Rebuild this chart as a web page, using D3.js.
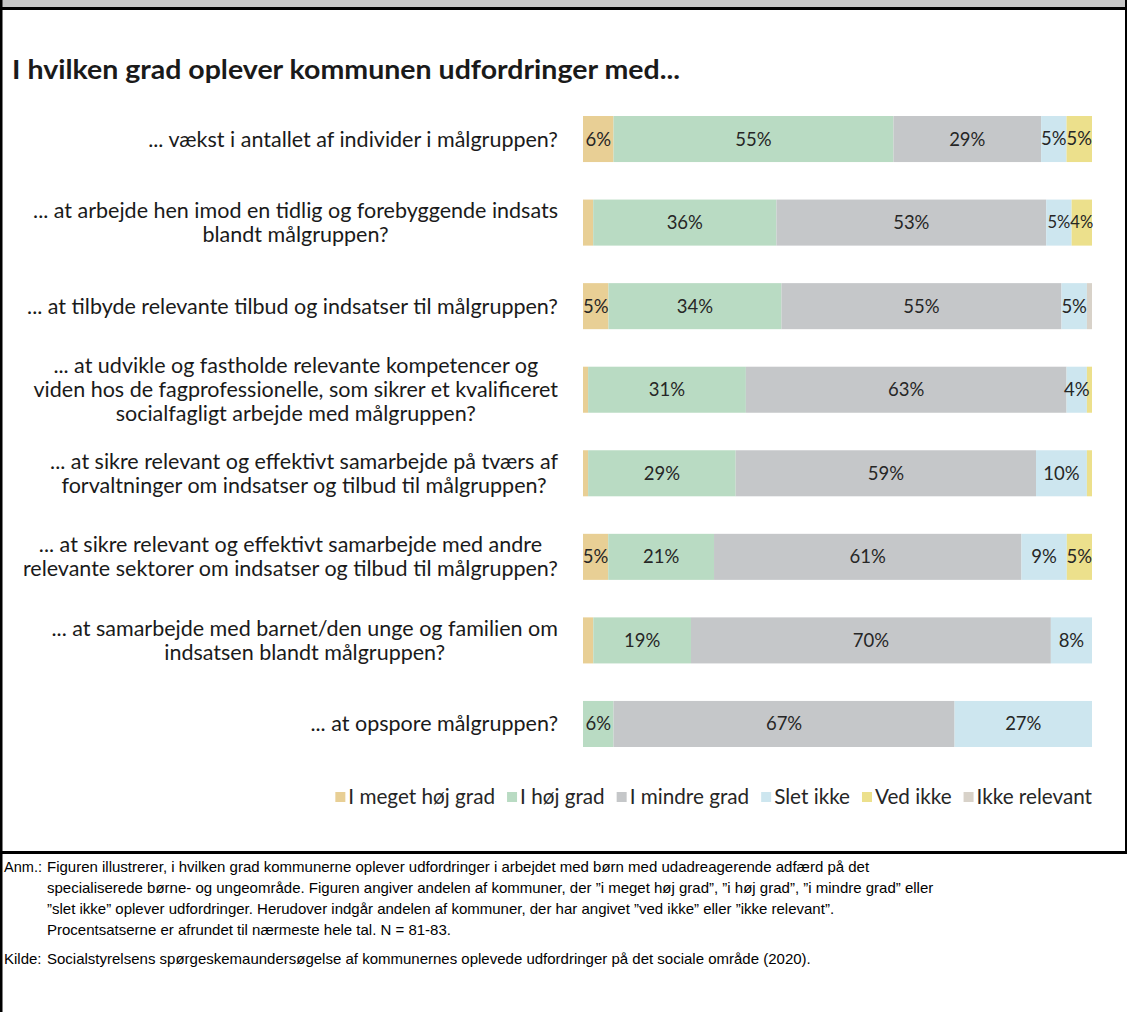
<!DOCTYPE html>
<html>
<head>
<meta charset="utf-8">
<script src="https://cdn.jsdelivr.net/npm/d3@7"></script>
<style>
  html, body { margin: 0; padding: 0; background: #fff; }
  svg { display: block; }
</style>
</head>
<body>
<svg id="chart" width="1127" height="1012"></svg>
<script>
// ---------- DATA ----------
const title = "I hvilken grad oplever kommunen udfordringer med...";
const categories = [
  ["... vækst i antallet af individer i målgruppen?"],
  ["... at arbejde hen imod en tidlig og forebyggende indsats", "blandt målgruppen?"],
  ["... at tilbyde relevante tilbud og indsatser til målgruppen?"],
  ["... at udvikle og fastholde relevante kompetencer og", "viden hos de fagprofessionelle, som sikrer et kvalificeret", "socialfagligt arbejde med målgruppen?"],
  ["... at sikre relevant og effektivt samarbejde på tværs af", "forvaltninger om indsatser og tilbud til målgruppen?"],
  ["... at sikre relevant og effektivt samarbejde med andre", "relevante sektorer om indsatser og tilbud til målgruppen?"],
  ["... at samarbejde med barnet/den unge og familien om", "indsatsen blandt målgruppen?"],
  ["... at opspore målgruppen?"]
];
const seriesNames = ["I meget høj grad", "I høj grad", "I mindre grad", "Slet ikke", "Ved ikke", "Ikke relevant"];
const iMegetHoejGrad = [6, 2, 5, 1, 1, 5, 2, 0];
const iHoejGrad      = [55, 36, 34, 31, 29, 21, 19, 6];
const iMindreGrad    = [29, 53, 55, 63, 59, 61, 70, 67];
const sletIkke       = [5, 5, 5, 4, 10, 9, 8, 27];
const vedIkke        = [5, 4, 0, 1, 1, 5, 0, 0];
const ikkeRelevant   = [0, 0, 1, 0, 0, 0, 0, 0];
const seriesColors = ["#e8cf95", "#b9dbc3", "#c5c7c9", "#cde6ef", "#ece08c", "#d8d2c9"];
const noteLabel = "Anm.:";
const noteLines = [
  "Figuren illustrerer, i hvilken grad kommunerne oplever udfordringer i arbejdet med børn med udadreagerende adfærd på det",
  "specialiserede børne- og ungeområde. Figuren angiver andelen af kommuner, der ”i meget høj grad”, ”i høj grad”, ”i mindre grad” eller",
  "”slet ikke” oplever udfordringer. Herudover indgår andelen af kommuner, der har angivet ”ved ikke” eller ”ikke relevant”.",
  "Procentsatserne er afrundet til nærmeste hele tal. N = 81-83."
];
const sourceLabel = "Kilde:";
const sourceText = "Socialstyrelsens spørgeskemaundersøgelse af kommunernes oplevede udfordringer på det sociale område (2020).";

// ---------- BUILD TABLE ----------
const seriesArrays = [iMegetHoejGrad, iHoejGrad, iMindreGrad, sletIkke, vedIkke, ikkeRelevant];
const rows = categories.map((c, i) => {
  const r = { idx: i, label: c };
  seriesNames.forEach((s, j) => r[s] = seriesArrays[j][i]);
  return r;
});

const svg = d3.select("#chart");
const W = 1127, H = 1012;
const chartFont = "Lato, 'Open Sans', sans-serif";
const noteFont = "'Liberation Sans', Arial, sans-serif";

// ---------- FRAME ----------
const sepY = 851;
svg.append("rect").attr("x", 0).attr("y", 0).attr("width", W).attr("height", 8).attr("fill", "#c6c6c6");
svg.append("rect").attr("x", 0).attr("y", 7).attr("width", W).attr("height", 3).attr("fill", "#000");
svg.append("rect").attr("x", 0).attr("y", 0).attr("width", 2.5).attr("height", H).attr("fill", "#000");
svg.append("rect").attr("x", W - 2).attr("y", 0).attr("width", 2).attr("height", sepY + 2).attr("fill", "#000");
svg.append("rect").attr("x", 0).attr("y", sepY).attr("width", W).attr("height", 3).attr("fill", "#000");

// ---------- TITLE ----------
svg.append("text")
  .attr("x", 12).attr("y", 79)
  .attr("font-family", chartFont).attr("font-weight", 700)
  .attr("font-size", 27).attr("fill", "#1a1a1a")
  .attr("textLength", 668).attr("lengthAdjust", "spacingAndGlyphs")
  .text(title);

// ---------- SCALES ----------
const x = d3.scaleLinear().domain([0, 1]).range([583, 1092]);
const y = d3.scaleBand().domain(rows.map(r => r.idx)).range([97.25, 765.75]).paddingInner(0.449).paddingOuter(0.2245);

const stack = d3.stack().keys(seriesNames).offset(d3.stackOffsetExpand);
const stacked = stack(rows);

const gBars = svg.append("g");
const layers = gBars.selectAll("g.layer").data(stacked).join("g")
  .attr("class", "layer").attr("fill", (d, i) => seriesColors[i]);
layers.selectAll("rect").data(d => d.map(v => ({ v, key: d.key }))).join("rect")
  .attr("x", d => x(d.v[0]))
  .attr("y", d => y(d.v.data.idx))
  .attr("width", d => Math.max(0, x(d.v[1]) - x(d.v[0])))
  .attr("height", y.bandwidth());

// value labels: shrink only where a label would run into its labelled neighbour
const labelSize = 18.5;
const gLabels = svg.append("g")
  .attr("font-family", chartFont).attr("fill", "#262626")
  .attr("text-anchor", "middle");
rows.forEach((r, ri) => {
  const items = [];
  stacked.forEach(layer => {
    const v = layer[ri];
    const val = r[layer.key];
    if (val >= 3) items.push({ val, cx: (x(v[0]) + x(v[1])) / 2 });
  });
  items.forEach((it, k) => {
    const t = gLabels.append("text")
      .attr("font-size", labelSize)
      .attr("x", it.cx)
      .attr("y", y(r.idx) + y.bandwidth() / 2)
      .attr("dy", "0.35em")
      .text(it.val + "%");
    const tw = t.node().getComputedTextLength();
    let allowed = Infinity;
    if (k > 0) allowed = Math.min(allowed, it.cx - items[k - 1].cx);
    if (k < items.length - 1) allowed = Math.min(allowed, items[k + 1].cx - it.cx);
    if (tw > allowed) t.attr("font-size", labelSize * allowed / tw);
  });
});

// ---------- CATEGORY LABELS ----------
const gCat = svg.append("g")
  .attr("font-family", chartFont).attr("font-size", 21.5).attr("fill", "#1a1a1a");
const labelRight = 558, lineH = 24;
rows.forEach(r => {
  const cy = y(r.idx) + y.bandwidth() / 2;
  const n = r.label.length;
  const texts = r.label.map((line, k) => gCat.append("text")
    .attr("y", cy + (k - (n - 1) / 2) * lineH)
    .attr("dy", "0.35em")
    .text(line));
  const widths = texts.map(t => t.node().getComputedTextLength());
  const maxW = d3.max(widths);
  const center = labelRight - maxW / 2;
  texts.forEach(t => t.attr("x", center).attr("text-anchor", "middle"));
});

// ---------- LEGEND ----------
const gLeg = svg.append("g").attr("font-family", chartFont).attr("font-size", 20.7).attr("fill", "#262626");
const legY = 797, sq = 10, gapT = 3, gapItem = 12;
const legItems = seriesNames.map((s, i) => {
  const g = gLeg.append("g");
  g.append("rect").attr("width", sq).attr("height", sq).attr("y", legY - sq / 2).attr("fill", seriesColors[i]);
  const t = g.append("text").attr("x", sq + gapT).attr("y", legY).attr("dy", "0.35em").text(s);
  return { g, w: sq + gapT + t.node().getComputedTextLength() };
});
const totalW = d3.sum(legItems, d => d.w) + gapItem * (legItems.length - 1);
let lx = 1092 - totalW;
legItems.forEach(it => { it.g.attr("transform", `translate(${lx},0)`); lx += it.w + gapItem; });

// ---------- NOTES ----------
const gNote = svg.append("g").attr("font-family", noteFont).attr("font-size", 15).attr("fill", "#000");
const noteTop = sepY + 21, noteLH = 21;
gNote.append("text").attr("x", 4).attr("y", noteTop).attr("textLength", 38).attr("lengthAdjust", "spacingAndGlyphs").text(noteLabel);
noteLines.forEach((l, i) => gNote.append("text").attr("x", 47).attr("y", noteTop + i * noteLH).text(l));
const srcY = noteTop + (noteLines.length + 0.4) * noteLH;
gNote.append("text").attr("x", 4).attr("y", srcY).text(sourceLabel);
gNote.append("text").attr("x", 47).attr("y", srcY).text(sourceText);
</script>
</body>
</html>
